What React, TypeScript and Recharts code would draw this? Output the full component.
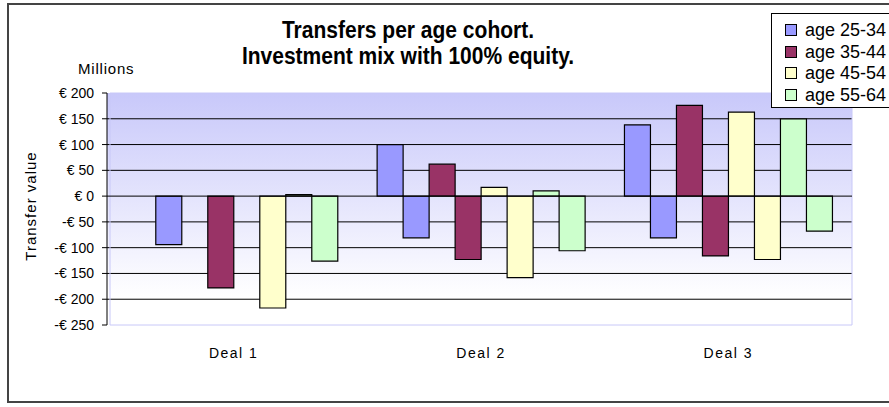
import { BarChart, Bar, XAxis, YAxis, CartesianGrid, ReferenceLine, ReferenceArea } from 'recharts'

const deals = ['Deal 1', 'Deal 2', 'Deal 3']
const ageGroups = ['age 25-34', 'age 35-44', 'age 45-54', 'age 55-64']
const ageColors = ['#9999FF', '#993366', '#FFFFCC', '#CCFFCC']

// positive and negative transfers, one pair per cohort
const gains2534 = [0, 100, 138]
const losses2534 = [-94, -81, -81]
const gains3544 = [0, 62, 176]
const losses3544 = [-178, -123, -116]
const gains4554 = [0, 17, 163]
const losses4554 = [-217, -158, -123]
const gains5564 = [3, 10, 150]
const losses5564 = [-126, -106, -68]

const yTicks = [-250, -200, -150, -100, -50, 0, 50, 100, 150, 200]
const gridValues = [150, 100, 50, -50, -100, -150, -200]

const gains = [gains2534, gains3544, gains4554, gains5564]
const losses = [losses2534, losses3544, losses4554, losses5564]

const data = deals.map((deal, i) => {
  const row: Record<string, string | number> = { deal }
  ageGroups.forEach((_, k) => {
    row['g' + k] = gains[k][i]
    row['l' + k] = losses[k][i]
  })
  return row
})

const font = '"Liberation Sans", Arial, sans-serif'

const euro = (v: number) => (v < 0 ? '-' : '') + '€ ' + Math.abs(v)

export default function App() {
  return (
    <div style={{ position: 'absolute', left: 0, top: 0, width: 889, height: 407, overflow: 'hidden', background: '#fff', fontFamily: font }}>
      <div style={{ position: 'absolute', left: 7, top: 3, width: 900, height: 400, border: '2px solid #444', boxSizing: 'border-box' }} />
      <BarChart
        width={889}
        height={407}
        data={data}
        margin={{ top: 93, right: 37, bottom: 42, left: 0 }}
        barCategoryGap="8%"
        barGap={0}
        style={{ position: 'absolute', left: 0, top: 0 }}
      >
        <defs>
          <linearGradient id="plotBg" x1="0" y1="0" x2="0" y2="1">
            <stop offset="0%" stopColor="#C8C8FA" />
            <stop offset="88%" stopColor="#FFFFFF" />
            <stop offset="100%" stopColor="#FFFFFF" />
          </linearGradient>
        </defs>
        <CartesianGrid fill="url(#plotBg)" stroke="#000" vertical={false} horizontalValues={gridValues} />
        <ReferenceArea y1={-250} y2={200} fill="none" stroke="#C8C8F8" strokeWidth={1} />
        <XAxis
          dataKey="deal"
          axisLine={false}
          tickLine={false}
          tickSize={0}
          tickMargin={23}
          height={40}
          padding={{ left: 3, right: 0 }}
          tick={{ fill: '#000', fontSize: 14, fontFamily: font, letterSpacing: 1.5 }}
        />
        <YAxis
          domain={[-250, 200]}
          ticks={yTicks}
          width={107}
          tickFormatter={euro}
          axisLine={{ stroke: '#000' }}
          tickLine={{ stroke: '#000' }}
          tickSize={5}
          tickMargin={8}
          tick={{ fill: '#000', fontSize: 14, fontFamily: font }}
          allowDataOverflow
        />
        {ageGroups.flatMap((name, k) => [
          <Bar key={'g' + k} dataKey={'g' + k} name={name} fill={ageColors[k]} stroke="#000" strokeWidth={1.2} isAnimationActive={false} />,
          <Bar key={'l' + k} dataKey={'l' + k} name={name} fill={ageColors[k]} stroke="#000" strokeWidth={1.2} isAnimationActive={false} />,
        ])}
        <ReferenceLine y={0} stroke="#000" strokeWidth={1} />
      </BarChart>

      <div style={{ position: 'absolute', left: 0, width: 816, top: 19, fontSize: 21, lineHeight: '21px', fontWeight: 'bold', textAlign: 'center', transform: 'scaleY(1.12)' }}>
        Transfers per age cohort.
      </div>
      <div style={{ position: 'absolute', left: 0, width: 816, top: 45, fontSize: 21, lineHeight: '21px', fontWeight: 'bold', textAlign: 'center', transform: 'scaleY(1.12)' }}>
        Investment mix with 100% equity.
      </div>
      <div style={{ position: 'absolute', left: 78, top: 61, fontSize: 15, lineHeight: '15px', letterSpacing: 0.8 }}>Millions</div>
      <div
        style={{
          position: 'absolute',
          left: 30,
          top: 206,
          fontSize: 15,
          lineHeight: '15px',
          letterSpacing: 1,
          whiteSpace: 'nowrap',
          transform: 'translate(-50%, -50%) rotate(-90deg)',
        }}
      >
        Transfer value
      </div>

      <div style={{ position: 'absolute', left: 771, top: 13, width: 130, height: 95, border: '1px solid #000', background: '#fff', boxSizing: 'border-box', paddingTop: 5 }}>
        {ageGroups.map((name, k) => (
          <div key={name} style={{ display: 'flex', alignItems: 'center', height: 21.7 }}>
            <div style={{ marginLeft: 13, width: 12, height: 12, boxSizing: 'border-box', border: '1px solid #000', background: ageColors[k] }} />
            <span style={{ marginLeft: 8, fontSize: 18, lineHeight: '18px', whiteSpace: 'nowrap' }}>{name}</span>
          </div>
        ))}
      </div>
    </div>
  )
}
